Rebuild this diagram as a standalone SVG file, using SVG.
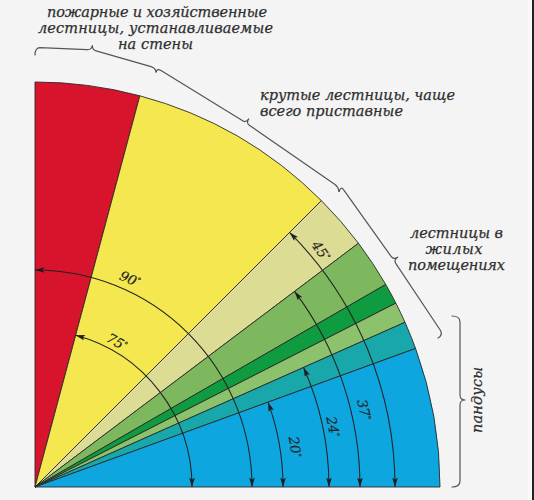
<svg xmlns="http://www.w3.org/2000/svg" width="534" height="500" viewBox="0 0 534 500">
  <defs>
    <marker id="arr" viewBox="0 0 10 6" refX="10" refY="3" markerWidth="10" markerHeight="5.6" markerUnits="userSpaceOnUse" orient="auto-start-reverse">
      <path d="M0,0 L10,3 L0,6 L2,3 z" fill="#1e1e1e"/>
    </marker>
  </defs>
  <style>
    .sec { stroke: #2a2a2a; stroke-width: 0.9; stroke-linejoin: round; }
    .dim { fill: none; stroke: #222; stroke-width: 1.05; marker-start: url(#arr); marker-end: url(#arr); }
    .brace { fill: none; stroke: #555; stroke-width: 1.2; stroke-linejoin: round; stroke-linecap: round; }
    .cap { font-family: "DejaVu Serif", "Liberation Serif", serif; font-style: italic; font-size: 14.5px; fill: #2f2f2f; stroke: #2f2f2f; stroke-width: 0.25; }
    .deg { font-family: "DejaVu Serif", "Liberation Serif", serif; font-style: italic; font-size: 13.5px; fill: #262626; stroke: #262626; stroke-width: 0.2; text-anchor: middle; }
    .sup { font-size: 8px; }
  </style>
  <rect x="0" y="0" width="534" height="500" fill="#f4f4f4"/>
  <rect x="528" y="0" width="4" height="500" fill="#f9f9f9"/>
  <rect x="532" y="0" width="2" height="500" fill="#222"/>

  <g id="sectors">
    <path id="s-red" class="sec" fill="#d8132c" d="M35 487 L35 82 A405 405 0 0 1 139.82 95.8 Z"/>
    <path id="s-yellow" class="sec" fill="#f5e74f" d="M35 487 L139.82 95.8 A405 405 0 0 1 321.38 200.62 Z"/>
    <path id="s-khaki" class="sec" fill="#dcdc94" d="M35 487 L321.38 200.62 A405 405 0 0 1 358.45 243.26 Z"/>
    <path id="s-green" class="sec" fill="#7db75e" d="M35 487 L358.45 243.26 A405 405 0 0 1 385.74 284.5 Z"/>
    <path id="s-darkgreen" class="sec" fill="#0f9b3f" d="M35 487 L385.74 284.5 A405 405 0 0 1 395.86 303.13 Z"/>
    <path id="s-lightgreen" class="sec" fill="#8cc26c" d="M35 487 L395.86 303.13 A405 405 0 0 1 404.99 322.27 Z"/>
    <path id="s-teal" class="sec" fill="#18a7aa" d="M35 487 L404.99 322.27 A405 405 0 0 1 415.58 348.48 Z"/>
    <path id="s-blue" class="sec" fill="#0ea6de" d="M35 487 L415.58 348.48 A405 405 0 0 1 440 487 Z"/>
  </g>

  <g id="connectors">
    <path id="a90" class="dim" d="M35 270 A217 217 0 0 1 252 487"/>
    <path id="a75" class="dim" d="M75.63 335.35 A157 157 0 0 1 192 487"/>
    <path id="a45" class="dim" d="M289.56 232.44 A360 360 0 0 1 395 487"/>
    <path id="a37" class="dim" d="M294.56 291.41 A325 325 0 0 1 360 487"/>
    <path id="a24" class="dim" d="M303.58 367.42 A294 294 0 0 1 329 487"/>
    <path id="a20" class="dim" d="M268.04 402.18 A248 248 0 0 1 283 487"/>
  </g>

  <g id="angle-labels">
    <text class="deg" transform="translate(130 279) rotate(24)" dy="0.35em">90<tspan class="sup" dy="-4">°</tspan></text>
    <text class="deg" transform="translate(117 342) rotate(30)" dy="0.35em">75<tspan class="sup" dy="-4">°</tspan></text>
    <text class="deg" transform="translate(321 251) rotate(55)" dy="0.35em">45<tspan class="sup" dy="-4">°</tspan></text>
    <text class="deg" transform="translate(364 410) rotate(77)" dy="0.35em">37<tspan class="sup" dy="-4">°</tspan></text>
    <text class="deg" transform="translate(333 427) rotate(79)" dy="0.35em">24<tspan class="sup" dy="-4">°</tspan></text>
    <text class="deg" transform="translate(295 447) rotate(81)" dy="0.35em">20<tspan class="sup" dy="-4">°</tspan></text>
  </g>

  <g id="braces">
    <path id="b1" class="brace" d="M35 55 Q35 48 40 47.7 L87 49.6 Q91.5 50 92.3 45.5 Q92.5 50.3 97 51.2 L151 66.6 Q155.5 68 156 72"/>
    <path id="b2" class="brace" d="M156 72 Q157 68 161 70.5 L242.7 120.8 Q246 123 248.8 118.9 Q246 123 249.3 125.2 L335 184.5 Q338.5 187 339 191.5"/>
    <path id="b3" class="brace" d="M339 191.5 Q341 186 343.5 189.7 L391.3 256.7 Q393.5 260 397.7 257.2 Q393.5 260 395.7 263.3 L440.5 330.5 Q443 335.5 438 338"/>
    <path id="b4" class="brace" d="M452 316 Q460 316 460 322 L460 395 Q460 400 465 400 Q460 400 460 405 L460 481 Q460 487 452 487"/>
  </g>

  <g id="captions">
    <g id="t-fire">
      <text class="cap" x="157" y="17" text-anchor="middle" textLength="220" lengthAdjust="spacing">пожарные и хозяйственные</text>
      <text class="cap" x="155.5" y="33" text-anchor="middle" textLength="235" lengthAdjust="spacing">лестницы, устанавливаемые</text>
      <text class="cap" x="155.5" y="49" text-anchor="middle" textLength="75" lengthAdjust="spacing">на стены</text>
    </g>
    <g id="t-steep">
      <text class="cap" x="260" y="100" textLength="195" lengthAdjust="spacing">крутые лестницы, чаще</text>
      <text class="cap" x="260" y="116" textLength="143" lengthAdjust="spacing">всего приставные</text>
    </g>
    <g id="t-home">
      <text class="cap" x="456.5" y="238" text-anchor="middle" textLength="93" lengthAdjust="spacing">лестницы в</text>
      <text class="cap" x="454" y="254" text-anchor="middle" textLength="57" lengthAdjust="spacing">жилых</text>
      <text class="cap" x="456.5" y="270" text-anchor="middle" textLength="97" lengthAdjust="spacing">помещениях</text>
    </g>
    <g id="t-ramps">
      <text class="cap" transform="translate(482 400) rotate(-90)" text-anchor="middle" textLength="66" lengthAdjust="spacing">пандусы</text>
    </g>
  </g>
</svg>
